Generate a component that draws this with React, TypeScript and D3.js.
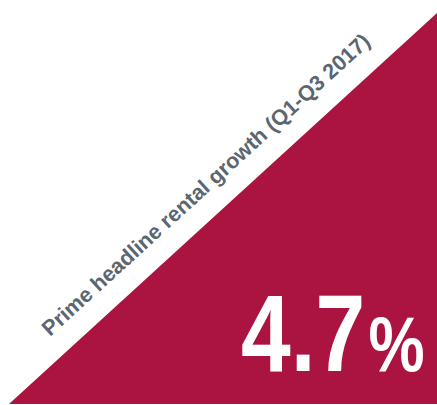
import React from "react";
import * as d3 from "d3";

const W = 437;
const H = 405;

// Data
const metricLabel = ["Prime headline rental growth (Q1-Q3 2017)"];
const metricValue = [4.7];
const metricUnit = ["%"];
const triangleCorners: [number, number][] = [
  [0, 0],
  [1, 1],
  [1, 0],
];

const CRIMSON = "#ab1440";
const GREY = "#5b6770";

export default function App() {
  const x = d3.scaleLinear().domain([0, 1]).range([9, 437]);
  const y = d3.scaleLinear().domain([0, 1]).range([404, 13]);
  const line = d3
    .line<[number, number]>()
    .x((d) => x(d[0]))
    .y((d) => y(d[1]))
    .curve(d3.curveLinearClosed);

  const angle = (Math.atan2(y(0) - y(1), x(1) - x(0)) * 180) / Math.PI;
  const fmt = d3.format(".1f");

  return (
    <svg
      width={W}
      height={H}
      style={{ position: "fixed", left: 0, top: 0, display: "block" }}
    >
      <rect width={W} height={H} fill="#ffffff" />
      <path d={line(triangleCorners) || ""} fill={CRIMSON} />
      <text
        transform={`translate(50,337) rotate(${-angle})`}
        fontFamily="'Liberation Sans', Arial, Helvetica, sans-serif"
        fontWeight="bold"
        fontSize={21.6}
        fill={GREY}
      >
        {metricLabel[0]}
      </text>
      <g transform="translate(241,371) scale(0.82,1)">
        <text
          fontFamily="'Liberation Sans', Arial, Helvetica, sans-serif"
          fontWeight="bold"
          fontSize={109}
          fill="#ffffff"
        >
          {fmt(metricValue[0])}
          <tspan fontSize={77} dx={4}>
            {metricUnit[0]}
          </tspan>
        </text>
      </g>
    </svg>
  );
}
